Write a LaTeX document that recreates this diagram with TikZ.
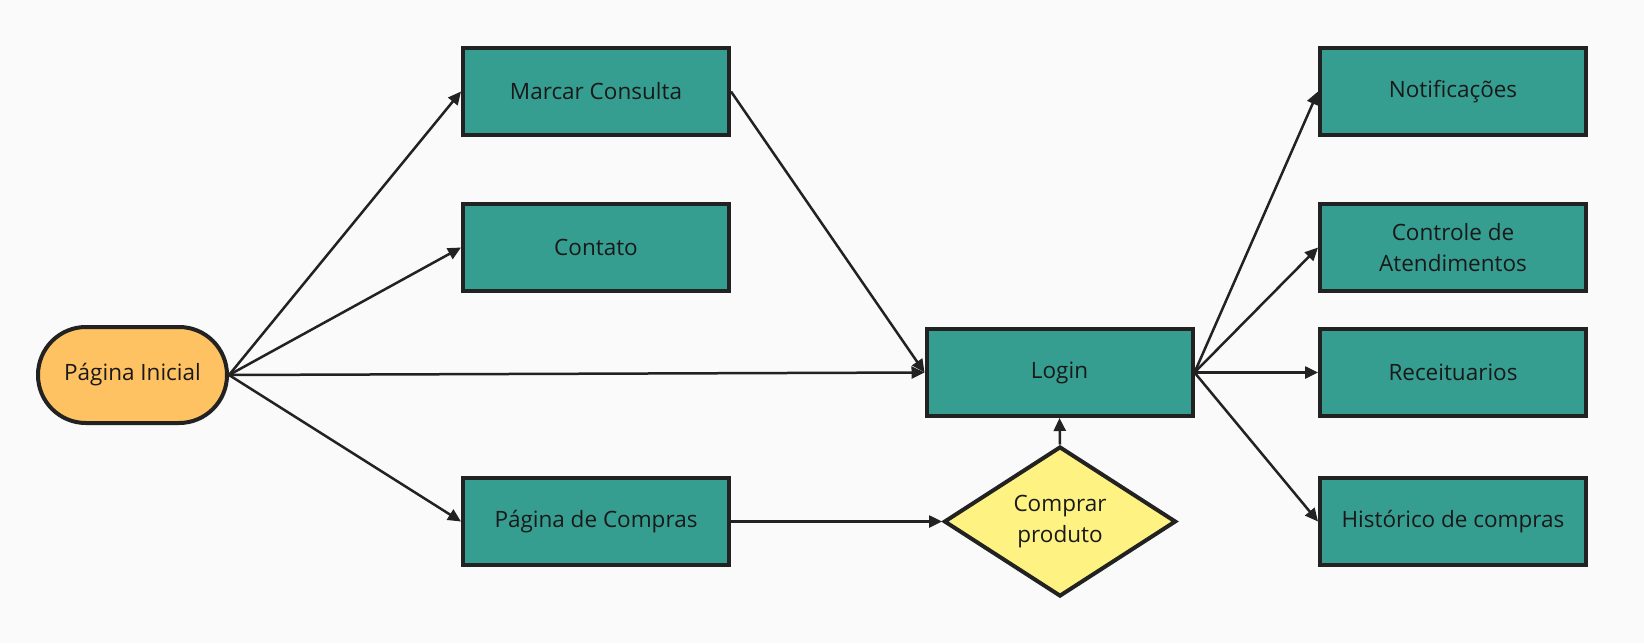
\documentclass[tikz,border=0pt]{standalone}
\usepackage{fontspec}
\setmainfont{Open Sans}
\usetikzlibrary{shapes.geometric,arrows.meta}
\definecolor{bgc}{HTML}{FAFAFA}
\definecolor{tealc}{HTML}{359E91}
\definecolor{orangec}{HTML}{FFC262}
\definecolor{yellowc}{HTML}{FDF282}
\definecolor{edgec}{HTML}{222222}
\tikzset{
  txt/.style={font=\fontsize{22.5}{31}\selectfont, text=black!90},
  boxn/.style={txt, draw=edgec, line width=4pt, fill=tealc, minimum width=266pt, minimum height=87pt,
    inner sep=0pt, align=center},
  startn/.style={txt, draw=edgec, line width=4pt, fill=orangec, minimum width=189pt, minimum height=96pt,
    rounded corners=47.9pt, inner sep=0pt, align=center},
  decn/.style={txt, diamond, draw=edgec, line width=4pt, fill=yellowc, minimum width=232pt, minimum height=150pt,
    aspect=1.55, inner sep=0pt, align=center},
  conn/.style={draw=edgec, line width=2.5pt, -{Triangle[length=13pt,width=12pt]}}
}
\begin{document}
\begin{tikzpicture}[x=1pt,y=-1pt]
\fill[bgc] (0,0) rectangle (1644,643);
\useasboundingbox (0,0) rectangle (1644,643);
\node[startn] (pi) at (132.5,375) {Página Inicial};
\node[boxn] (mc) at (596,91.5) {Marcar Consulta};
\node[boxn] (ct) at (596,247.5) {Contato};
\node[boxn] (pc) at (596,521.5) {Página de Compras};
\node[boxn] (lg) at (1059.5,372.5) {Login};
\node[decn] (cp) at (1060,521.5) {Comprar\\produto};
\node[boxn] (nt) at (1453,91.5) {Notificações};
\node[boxn] (ca) at (1453,247.5) {Controle de\\Atendimentos};
\node[boxn] (rc) at (1453,372.5) {Receituarios};
\node[boxn] (hc) at (1453,521.5) {Histórico de compras};
\draw[conn] (pi.east) -- (mc.west);
\draw[conn] (pi.east) -- (ct.west);
\draw[conn] (pi.east) -- (lg.west);
\draw[conn] (pi.east) -- (pc.west);
\draw[conn] (mc.east) -- (lg.west);
\draw[conn] (pc.east) -- (cp.west);
\draw[conn] (cp.north) -- (lg.south);
\draw[conn] (lg.east) -- (nt.west);
\draw[conn] (lg.east) -- (ca.west);
\draw[conn] (lg.east) -- (rc.west);
\draw[conn] (lg.east) -- (hc.west);
\end{tikzpicture}
\end{document}
